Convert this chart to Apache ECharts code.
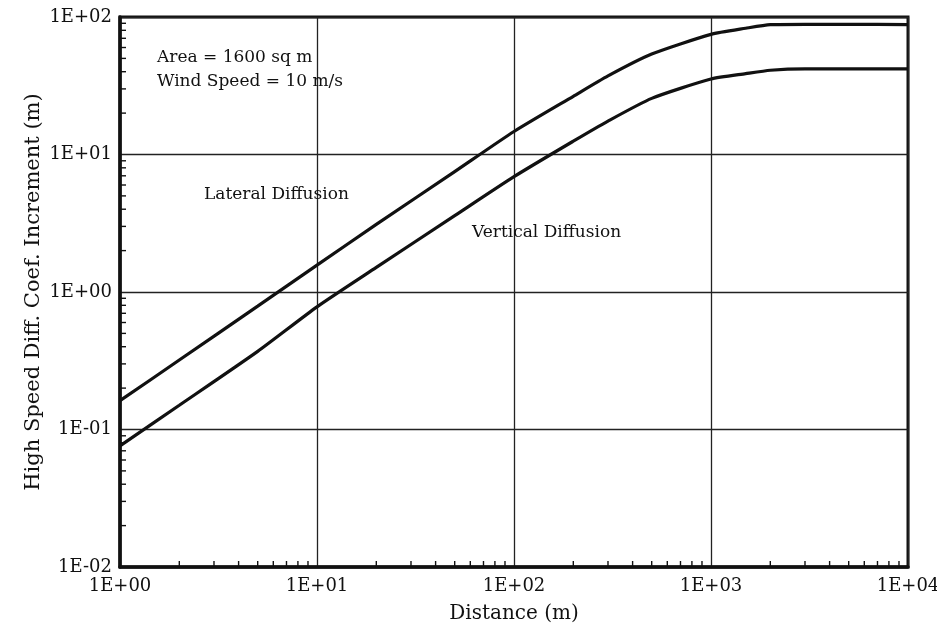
<!DOCTYPE html>
<html>
<head>
<meta charset="utf-8">
<script src="https://cdn.jsdelivr.net/npm/echarts@6/dist/echarts.min.js"></script>
<style>
  html, body { margin: 0; padding: 0; background: #fff; }
  #chart { width: 937px; height: 631px; }
</style>
</head>
<body>
<div id="chart"></div>
<script>
// Distance downwind (m) at which the increments were evaluated
const distance = [1, 2, 5, 10, 20, 50, 100, 200, 300, 500, 1000, 1500, 2000, 3000, 5000, 10000];
// Lateral diffusion coefficient increment (m)
const lateral = [0.162, 0.32, 0.79, 1.57, 3.1, 7.5, 14.7, 26.5, 37.3, 53.8, 74.8, 82.8, 88, 88.5, 88.5, 88];
// Vertical diffusion coefficient increment (m)
const vertical = [0.076, 0.15, 0.37, 0.78, 1.51, 3.59, 6.9, 12.5, 17.5, 25.6, 35.4, 38.7, 41, 42, 42, 42];

// Decade tick labels
const xTickLabels = ['1E+00', '1E+01', '1E+02', '1E+03', '1E+04'];
const yTickLabels = ['1E-02', '1E-01', '1E+00', '1E+01', '1E+02'];
const xMinExp = 0;
const yMinExp = -2;

// Minor tick multipliers inside each decade
const minorSteps = [2, 3, 4, 5, 6, 7, 8, 9];

const serif = 'DejaVu Serif';
const ink = '#111111';

function minorTicks(minExp, decades) {
  const out = [];
  for (let d = 0; d < decades; d++) {
    const base = Math.pow(10, minExp + d);
    minorSteps.forEach(m => out.push(m * base));
  }
  return out;
}

const xMinor = minorTicks(xMinExp, 4);
const yMinor = minorTicks(yMinExp, 4);

function pair(xs, ys) { return xs.map((x, i) => [x, ys[i]]); }

const chart = echarts.init(document.getElementById('chart'), null, { renderer: 'canvas' });

const tickLen = 6;

chart.setOption({
  backgroundColor: '#ffffff',
  animation: false,
  grid: {
    left: 120, right: 29, top: 17, bottom: 64,
    outerBoundsMode: 'none', containLabel: false,
    show: true, borderColor: ink, borderWidth: 3, backgroundColor: 'transparent'
  },
  xAxis: {
    type: 'log', logBase: 10, min: 1, max: 10000, splitNumber: 4,
    name: 'Distance (m)', nameLocation: 'middle', nameGap: 37,
    nameTextStyle: { fontFamily: serif, fontSize: 20, color: ink },
    axisLine: { show: true, lineStyle: { color: ink, width: 3.5 } },
    axisTick: { show: false },
    axisLabel: {
      fontFamily: serif, fontSize: 18, color: ink, margin: 10,
      formatter: v => xTickLabels[Math.round(Math.log10(v)) - xMinExp]
    },
    splitLine: { show: true, lineStyle: { color: '#222', width: 1.3 } }
  },
  yAxis: {
    type: 'log', logBase: 10, min: 0.01, max: 100, splitNumber: 4,
    name: 'High Speed Diff. Coef. Increment (m)', nameLocation: 'middle', nameGap: 76,
    nameMoveOverlap: false,
    nameTextStyle: { fontFamily: serif, fontSize: 21, color: ink },
    axisLine: { show: true, lineStyle: { color: ink, width: 3.5 } },
    axisTick: { show: false },
    axisLabel: {
      fontFamily: serif, fontSize: 18, color: ink, margin: 8,
      formatter: v => yTickLabels[Math.round(Math.log10(v)) - yMinExp]
    },
    splitLine: { show: true, lineStyle: { color: '#222', width: 1.3 } }
  },
  series: [
    {
      name: 'Lateral Diffusion', type: 'line', data: pair(distance, lateral),
      showSymbol: false, smooth: 0.2,
      lineStyle: { color: ink, width: 3.2 }, z: 5
    },
    {
      name: 'Vertical Diffusion', type: 'line', data: pair(distance, vertical),
      showSymbol: false, smooth: 0.2,
      lineStyle: { color: ink, width: 3.2 }, z: 5
    },
    {
      // minor ticks along the distance axis, pointing into the plot
      type: 'custom', silent: true, clip: false, z: 6,
      data: xMinor.map(v => [v, 0.01]),
      renderItem: (params, api) => {
        const p = api.coord([api.value(0), api.value(1)]);
        return { type: 'line', shape: { x1: p[0], y1: p[1], x2: p[0], y2: p[1] - tickLen },
          style: { stroke: ink, lineWidth: 1.4 } };
      }
    },
    {
      // minor ticks along the coefficient axis, pointing into the plot
      type: 'custom', silent: true, clip: false, z: 6,
      data: yMinor.map(v => [1, v]),
      renderItem: (params, api) => {
        const p = api.coord([api.value(0), api.value(1)]);
        return { type: 'line', shape: { x1: p[0], y1: p[1], x2: p[0] + tickLen, y2: p[1] },
          style: { stroke: ink, lineWidth: 1.4 } };
      }
    }
  ],
  graphic: [
    { type: 'text', left: 157, top: 49, z: 10,
      style: { text: 'Area = 1600 sq m', font: '17px "DejaVu Serif"', fill: ink } },
    { type: 'text', left: 157, top: 73, z: 10,
      style: { text: 'Wind Speed = 10 m/s', font: '17px "DejaVu Serif"', fill: ink } },
    { type: 'text', left: 204, top: 186, z: 10,
      style: { text: 'Lateral Diffusion', font: '17px "DejaVu Serif"', fill: ink } },
    { type: 'text', left: 472, top: 224, z: 10,
      style: { text: 'Vertical Diffusion', font: '17px "DejaVu Serif"', fill: ink } }
  ]
});
</script>
</body>
</html>
